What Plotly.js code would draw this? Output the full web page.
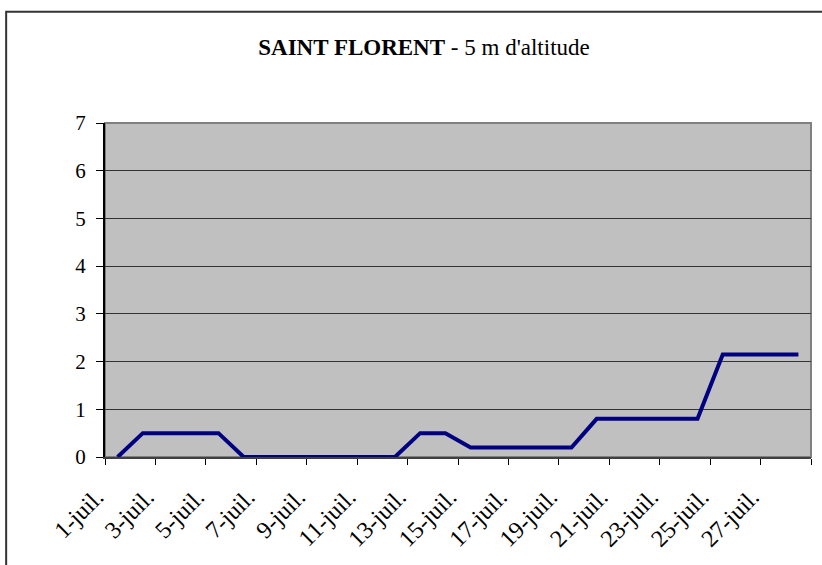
<!DOCTYPE html>
<html>
<head>
<meta charset="utf-8">
<script src="https://cdn.plot.ly/plotly-3.0.1.min.js"></script>
<style>
  body { margin: 0; background: #fff; }
  #chart { width: 822px; height: 565px; }
</style>
</head>
<body>
<div id="chart"></div>
<script>
// jours de juillet
const days = [];
for (let d = 1; d <= 28; d++) days.push(d + "-juil.");

// valeurs
const values = [0, 0.5, 0.5, 0.5, 0.5, 0, 0, 0, 0, 0, 0, 0, 0.5, 0.5,
                0.2, 0.2, 0.2, 0.2, 0.2, 0.8, 0.8, 0.8, 0.8, 0.8, 2.15, 2.15, 2.15, 2.15];

// ticks between categories, labels every 2 days
const tickPos = [];
const tickLabels = [];
for (let i = 0; i <= 28; i += 2) {
    tickPos.push(i - 0.5);
    // trailing nbsp pushes the rotated label a bit left of its tick
    tickLabels.push(i < 28 ? days[i] + "\u00a0\u00a0" : "");
}

const serif = "Times New Roman, Liberation Serif, DejaVu Serif, serif";

Plotly.newPlot("chart", [{
    x: days,
    y: values,
    type: "scatter",
    mode: "lines",
    line: { color: "#000080", width: 4 },
    hoverinfo: "skip"
}], {
    width: 822,
    height: 565,
    margin: { l: 105, r: 11, t: 123, b: 108 },
    paper_bgcolor: "#ffffff",
    plot_bgcolor: "#c0c0c0",
    showlegend: false,
    font: { family: serif },
    title: {
        text: "<b>SAINT FLORENT</b> - 5 m d'altitude",
        font: { family: serif, size: 23, color: "#000" },
        x: 424 / 822, xref: "container", xanchor: "center",
        y: 1 - 47 / 565, yref: "container", yanchor: "middle"
    },
    xaxis: {
        type: "category",
        range: [-0.5, 27.5],
        tickmode: "array",
        tickvals: tickPos,
        ticktext: tickLabels,
        tickangle: -45,
        ticks: "outside",
        ticklen: 6,
        tickcolor: "#000",
        ticklabelstandoff: 0,
        showgrid: false,
        showline: true,
        linecolor: "#404040",
        linewidth: 2,
        automargin: false,
        tickfont: { family: serif, size: 24, color: "#000" }
    },
    yaxis: {
        range: [0, 7],
        tickvals: [0, 1, 2, 3, 4, 5, 6, 7],
        ticks: "outside",
        ticklen: 7,
        tickcolor: "#000",
        ticklabelstandoff: 6,
        showgrid: true,
        gridcolor: "#333333",
        gridwidth: 1,
        zeroline: false,
        showline: true,
        linecolor: "#000",
        linewidth: 2,
        tickfont: { family: serif, size: 21, color: "#000" }
    },
    shapes: [
        // cadre du graphique
        { type: "rect", xref: "paper", yref: "paper",
          x0: -0.140, x1: 1.2, y0: -0.5, y1: 1.333,
          line: { color: "#333333", width: 2 } },
        // bordure de la zone de tracé
        { type: "rect", xref: "paper", yref: "paper", layer: "below",
          x0: 0, x1: 1, y0: 0, y1: 1,
          line: { color: "#808080", width: 2 } }
    ]
}, { displayModeBar: false, staticPlot: true });
</script>
</body>
</html>
